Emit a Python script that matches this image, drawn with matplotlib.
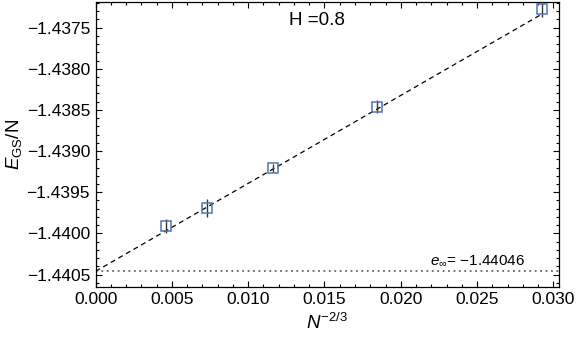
import matplotlib
matplotlib.use("Agg")
import matplotlib.pyplot as plt
from matplotlib.ticker import MultipleLocator, FuncFormatter

plt.rcParams['font.family'] = ['Liberation Sans', 'DejaVu Sans']
plt.rcParams['mathtext.fontset'] = 'custom'
plt.rcParams['mathtext.rm'] = 'Liberation Sans'
plt.rcParams['mathtext.it'] = 'Liberation Sans:italic'
plt.rcParams['mathtext.sf'] = 'Liberation Sans'

# data: x = N^{-2/3}, y = E_GS/N
x_vals = [0.00461, 0.00731, 0.01160, 0.01842, 0.02926]
y_vals = [-1.43991, -1.43969, -1.43921, -1.43846, -1.43727]
y_err = [0.000083, 0.00011, 0.00005, 0.000077, 0.0001]

# linear fit parameters
e_inf = -1.44046
fit_slope = 0.1068
fit_x = [0.0, 0.02926]

fig = plt.figure(figsize=(5.76, 3.42), dpi=100)
ax = fig.add_axes([0.166, 0.161, 0.805, 0.833])

ax.axhline(e_inf, color='#666666', linestyle=(0, (1, 2)), linewidth=1.3, zorder=1)
ax.plot(fit_x, [e_inf + fit_slope * xv for xv in fit_x], color='black',
        linestyle=(0, (4, 3)), linewidth=0.9, zorder=2)
ax.errorbar(x_vals, y_vals, yerr=y_err, fmt='none', ecolor='#333333',
            elinewidth=1.0, capsize=0, zorder=3)
ax.plot(x_vals, y_vals, linestyle='none', marker='s', markersize=7.5,
        markerfacecolor='none', markeredgecolor='#4f73b3', markeredgewidth=1.1, zorder=4)

ax.set_xlim(0, 0.03039)
ax.set_ylim(-1.44065, -1.43719)

ax.xaxis.set_major_locator(MultipleLocator(0.005))
ax.xaxis.set_minor_locator(MultipleLocator(0.001))
ax.yaxis.set_major_locator(MultipleLocator(0.0005))
ax.yaxis.set_minor_locator(MultipleLocator(0.0001))
ax.xaxis.set_major_formatter(FuncFormatter(lambda v, p: f"{v:.3f}"))
ax.yaxis.set_major_formatter(FuncFormatter(lambda v, p: f"{v:.4f}".replace('-', '\u2212')))

ax.tick_params(which='both', direction='in', top=True, right=True, labelsize=12.5, width=0.8)
ax.tick_params(which='major', length=4.5, pad=4)
ax.tick_params(which='minor', length=2.5)
for s in ax.spines.values():
    s.set_linewidth(0.9)

ax.set_xlabel(r'$N^{-2/3}$', fontsize=13.5, labelpad=4)
ax.set_ylabel(r'$E_{\mathrm{GS}}$/N', fontsize=13.5, labelpad=2)

ax.text(0.01452, -1.43741, 'H =0.8', fontsize=13.5, ha='center', va='center')
ax.text(0.0250, -1.44046 + 0.00004, '$e_{\\infty}$= \u22121.44046', fontsize=11,
        ha='center', va='bottom')

fig.savefig('out.png', dpi=100)
